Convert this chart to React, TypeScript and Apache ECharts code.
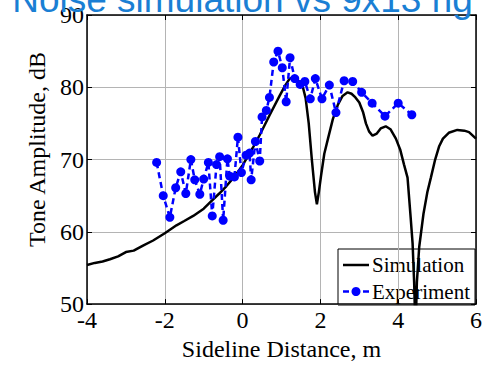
import React, { useEffect, useRef } from "react";
import * as echarts from "echarts";

const titleText = "Noise simulation vs 9x13 rig";
const xName = "Sideline Distance, m";
const yName = "Tone Amplitude, dB";
const legendNames = ["Simulation", "Experiment"];

const simX = [-4, -3.8, -3.6, -3.41, -3.2, -3.0, -2.8, -2.56, -2.3, -2.0, -1.7, -1.5, -1.27, -1.0, -0.85, -0.6, -0.42, -0.2, 0.01, 0.26, 0.44, 0.69, 0.95, 1.1, 1.21, 1.33, 1.45, 1.55, 1.62, 1.7, 1.78, 1.86, 1.91, 1.96, 2.02, 2.1, 2.2, 2.32, 2.45, 2.57, 2.7, 2.8, 2.9, 3.0, 3.1, 3.17, 3.25, 3.34, 3.45, 3.55, 3.68, 3.8, 3.94, 4.05, 4.15, 4.24, 4.32, 4.37, 4.41, 4.445, 4.48, 4.54, 4.65, 4.75, 4.84, 4.95, 5.05, 5.15, 5.3, 5.52, 5.7, 5.82, 6.0];
const simY = [55.4, 55.7, 55.9, 56.2, 56.6, 57.2, 57.4, 58.1, 58.8, 59.8, 60.9, 61.5, 62.2, 63.2, 64.0, 65.3, 66.3, 67.7, 69.3, 71.6, 73.4, 76.1, 78.8, 80.3, 81.2, 81.4, 80.8, 80.0, 78.5, 75.0, 70.0, 65.5, 63.8, 65.5, 67.9, 70.8, 73.0, 75.6, 77.6, 78.8, 79.3, 79.1, 78.6, 77.9, 76.5, 75.0, 73.9, 73.3, 73.6, 74.3, 74.6, 74.2, 72.9, 71.4, 69.3, 67.5, 62.0, 58.4, 53.0, 46.0, 53.0, 57.9, 62.5, 65.5, 67.5, 70.0, 71.8, 72.9, 73.7, 74.1, 74.0, 73.8, 72.9];

const expX = [-2.21, -2.04, -1.87, -1.72, -1.59, -1.46, -1.33, -1.23, -1.1, -1.0, -0.88, -0.78, -0.67, -0.59, -0.5, -0.39, -0.33, -0.21, -0.12, -0.03, 0.09, 0.18, 0.22, 0.33, 0.44, 0.5, 0.61, 0.69, 0.8, 0.91, 1.02, 1.12, 1.22, 1.34, 1.48, 1.6, 1.74, 1.87, 2.04, 2.23, 2.4, 2.61, 2.83, 3.06, 3.33, 3.66, 4.0, 4.35];
const expY = [69.6, 65.0, 62.0, 66.1, 68.3, 65.3, 70.0, 67.2, 65.2, 67.3, 69.6, 62.2, 69.3, 70.4, 61.6, 70.1, 67.7, 67.6, 73.1, 68.2, 70.6, 70.9, 67.2, 72.5, 69.8, 75.9, 76.8, 78.6, 83.5, 85.0, 82.7, 78.0, 84.1, 81.2, 80.4, 80.8, 78.4, 81.2, 78.4, 80.3, 76.5, 80.9, 80.8, 79.3, 77.8, 76.0, 77.8, 76.2];

const xMin = -4, xMax = 6, xStep = 2;
const yMin = 50, yMax = 90, yStep = 10;

const SERIF = "Liberation Serif";
const SIM_COLOR = "#000";
const EXP_COLOR = "#0000ff";

export default function App() {
  const ref = useRef<HTMLDivElement>(null);
  useEffect(() => {
    if (!ref.current) return;
    const chart = echarts.init(ref.current, null, { renderer: "svg" });
    const axisLine = { show: true, onZero: false, lineStyle: { color: "#000", width: 1.5 } };
    const tick = { show: true, inside: true, length: 5, lineStyle: { color: "#000", width: 1 } };
    const split = { show: true, lineStyle: { color: "#b4b4b4", width: 1 } };
    const lx = 338, ly = 249, lw = 137, lh = 56;
    const row1 = 265, row2 = 291.5;
    chart.setOption({
      animation: false,
      backgroundColor: "#fff",
      title: {
        text: titleText,
        left: "center",
        top: -24,
        textStyle: { fontFamily: "Liberation Sans", fontSize: 37, fontWeight: "normal", color: "#1a7fd4" },
      },
      grid: { left: 87, right: 8, top: 15, bottom: 58, show: false },
      xAxis: [
        {
          type: "value", min: xMin, max: xMax, interval: xStep, position: "bottom",
          name: xName, nameLocation: "middle", nameGap: 28,
          nameTextStyle: { fontFamily: SERIF, fontSize: 24, color: "#000" },
          axisLine, axisTick: tick, splitLine: split,
          axisLabel: { fontFamily: SERIF, fontSize: 24, color: "#000", margin: 4 },
        },
        {
          type: "value", min: xMin, max: xMax, interval: xStep, position: "top",
          axisLine, axisTick: tick, splitLine: { show: false }, axisLabel: { show: false },
        },
      ],
      yAxis: [
        {
          type: "value", min: yMin, max: yMax, interval: yStep, position: "left",
          name: yName, nameLocation: "middle", nameGap: 35,
          nameTextStyle: { fontFamily: SERIF, fontSize: 24, color: "#000", padding: [0, 0, 0, 20] },
          axisLine, axisTick: tick, splitLine: split,
          axisLabel: { fontFamily: SERIF, fontSize: 24, color: "#000", margin: 3 },
        },
        {
          type: "value", min: yMin, max: yMax, interval: yStep, position: "right",
          axisLine, axisTick: tick, splitLine: { show: false }, axisLabel: { show: false },
        },
      ],
      graphic: [
        {
          type: "group",
          z: 100,
          children: [
            { type: "rect", shape: { x: lx, y: ly, width: lw, height: lh }, style: { fill: "#fff", stroke: "#000", lineWidth: 1 } },
            { type: "line", shape: { x1: lx + 5, y1: row1, x2: lx + 31, y2: row1 }, style: { stroke: SIM_COLOR, lineWidth: 2.5 } },
            { type: "text", style: { text: legendNames[0], x: lx + 34, y: row1, verticalAlign: "middle", font: `21px '${SERIF}'`, fill: "#000" } },
            { type: "line", shape: { x1: lx + 5, y1: row2, x2: lx + 31, y2: row2 }, style: { stroke: EXP_COLOR, lineWidth: 2.5, lineDash: [6, 4] } },
            { type: "circle", shape: { cx: lx + 18, cy: row2, r: 4.5 }, style: { fill: EXP_COLOR } },
            { type: "text", style: { text: legendNames[1], x: lx + 34, y: row2, verticalAlign: "middle", font: `21px '${SERIF}'`, fill: "#000" } },
          ],
        },
      ],
      series: [
        {
          name: legendNames[0],
          type: "line",
          xAxisIndex: 0, yAxisIndex: 0,
          data: simX.map((x, i) => [x, simY[i]]),
          symbol: "none",
          clip: true,
          lineStyle: { color: SIM_COLOR, width: 2.5 },
          itemStyle: { color: SIM_COLOR },
        },
        {
          name: legendNames[1],
          type: "line",
          xAxisIndex: 0, yAxisIndex: 0,
          data: expX.map((x, i) => [x, expY[i]]),
          symbol: "circle",
          symbolSize: 9,
          showSymbol: true,
          lineStyle: { color: EXP_COLOR, width: 2.5, type: [6, 4] },
          itemStyle: { color: EXP_COLOR },
        },
      ],
    });
    return () => chart.dispose();
  }, []);
  return <div ref={ref} style={{ position: "fixed", left: 0, top: 0, width: 485, height: 366 }} />;
}
